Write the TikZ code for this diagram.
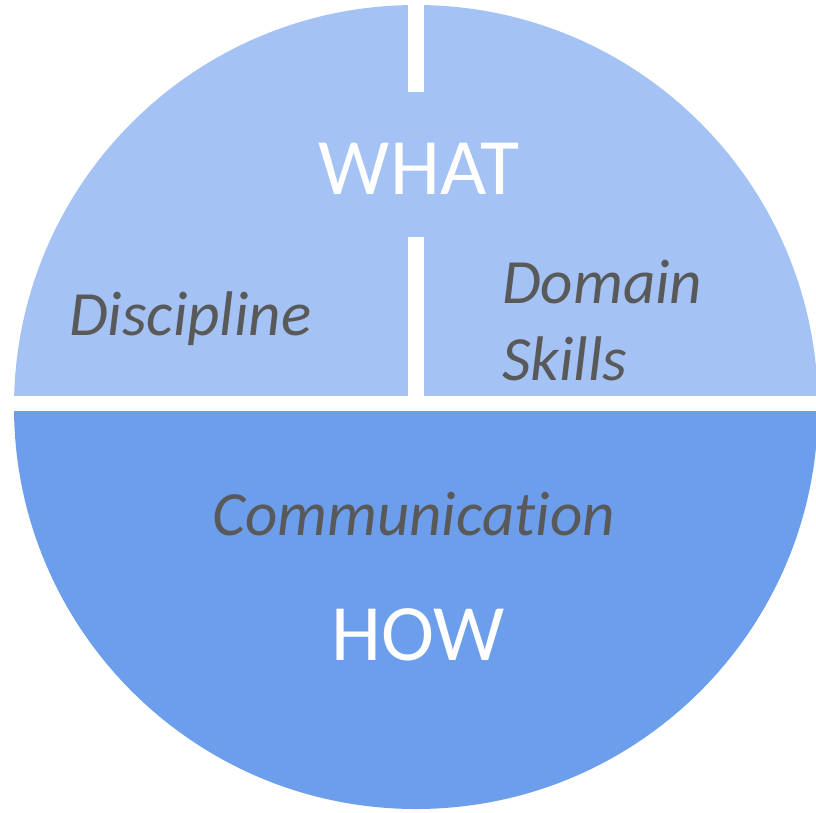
\documentclass[tikz,border=0pt]{standalone}
\usepackage{fontspec}
\setmainfont{Carlito}[Ligatures=NoCommon]
\definecolor{topblue}{HTML}{A4C2F4}
\definecolor{botblue}{HTML}{6D9EEB}
\definecolor{labelgrey}{HTML}{595959}
\begin{document}
\begin{tikzpicture}[x=1pt,y=-1pt,
  bigword/.style={text=white, font=\fontsize{80}{96}\selectfont, inner sep=0pt, anchor=base},
  subword/.style={text=labelgrey, font=\fontsize{63}{77}\selectfont\itshape, inner sep=0pt, anchor=base west}]
\useasboundingbox (0,0) rectangle (816,812);
\fill[white] (0,0) rectangle (816,812);
\coordinate (c) at (416,407);
\begin{scope}
  \clip (c) circle[radius=402];
  \fill[topblue] (0,0) rectangle (816,404);
  \fill[botblue] (0,404) rectangle (816,812);
\end{scope}
\fill[white] (0,396) rectangle (816,411);
\fill[white] (408,0) rectangle (424,92);
\fill[white] (408,237) rectangle (424,396);
\node[bigword] (what) at (419,194) {WHAT};
\node[bigword] (how) at (418,660) {HOW};
\node[subword] (disc) at (69,335) {Discipline};
\node[subword, align=left] (dom) at (502,380) {Domain\\Skills};
\node[subword] (comm) at (212,535) {Communication};
\end{tikzpicture}
\end{document}
